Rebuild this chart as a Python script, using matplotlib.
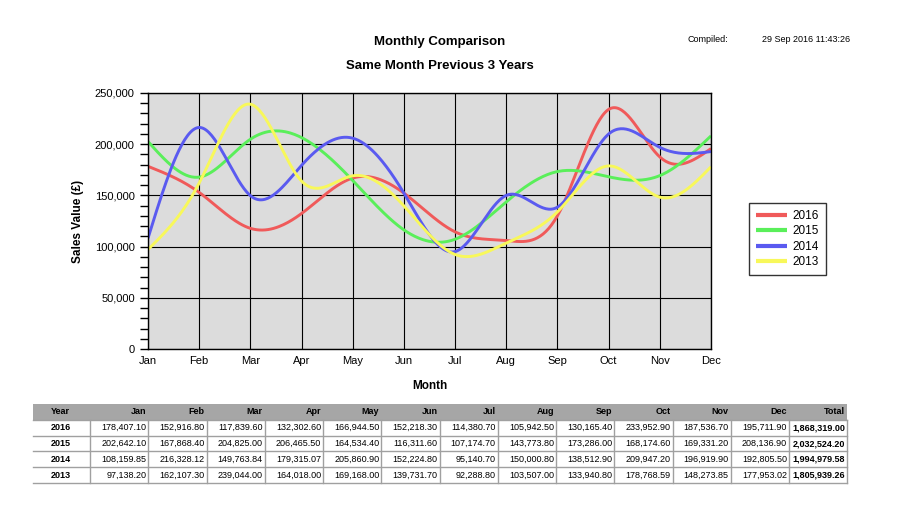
import numpy as np
import matplotlib
matplotlib.use("Agg")
import matplotlib.pyplot as plt
from matplotlib.patches import Rectangle

plt.rcParams['font.family'] = ['Liberation Sans', 'DejaVu Sans']

months = ["Jan", "Feb", "Mar", "Apr", "May", "Jun", "Jul", "Aug", "Sep", "Oct", "Nov", "Dec"]
years = ["2016", "2015", "2014", "2013"]
v2016 = [178407.10, 152916.80, 117839.60, 132302.60, 166944.50, 152218.30,
         114380.70, 105942.50, 130165.40, 233952.90, 187536.70, 195711.90]
v2015 = [202642.10, 167868.40, 204825.00, 206465.50, 164534.40, 116311.60,
         107174.70, 143773.80, 173286.00, 168174.60, 169331.20, 208136.90]
v2014 = [108159.85, 216328.12, 149763.84, 179315.07, 205860.90, 152224.80,
         95140.70, 150000.80, 138512.90, 209947.20, 196919.90, 192805.50]
v2013 = [97138.20, 162107.30, 239044.00, 164018.00, 169168.00, 139731.70,
         92288.80, 103507.00, 133940.80, 178768.59, 148273.85, 177953.02]
series = [v2016, v2015, v2014, v2013]
colors = ["#f05a5a", "#5aef5a", "#5a5af0", "#f8f85a"]


def natural_spline(x, y, n=400):
    x = np.asarray(x, float); y = np.asarray(y, float)
    m = len(x); h = np.diff(x)
    A = np.zeros((m, m)); b = np.zeros(m)
    A[0, 0] = A[-1, -1] = 1
    for i in range(1, m - 1):
        A[i, i - 1] = h[i - 1]; A[i, i] = 2 * (h[i - 1] + h[i]); A[i, i + 1] = h[i]
        b[i] = 3 * ((y[i + 1] - y[i]) / h[i] - (y[i] - y[i - 1]) / h[i - 1])
    c = np.linalg.solve(A, b)
    xs = np.linspace(x[0], x[-1], n)
    idx = np.clip(np.searchsorted(x, xs) - 1, 0, m - 2)
    dx = xs - x[idx]
    bb = (y[1:] - y[:-1]) / h - h * (2 * c[:-1] + c[1:]) / 3
    d = (c[1:] - c[:-1]) / (3 * h)
    ys = y[idx] + bb[idx] * dx + c[idx] * dx ** 2 + d[idx] * dx ** 3
    return xs, ys


W, H = 909, 507
fig = plt.figure(figsize=(W / 100, H / 100), dpi=100)

def fx(px): return px / W
def fy(py): return 1 - py / H

ax = fig.add_axes([fx(148), fy(349), fx(711) - fx(148), fy(93) - fy(349)])
ax.set_facecolor("#dcdcdc")
x = np.arange(12)
for vals, col, yr in zip(series, colors, years):
    xs, ys = natural_spline(x, vals)
    ax.plot(xs, ys, color=col, lw=2.1, label=yr, solid_capstyle='butt')
ax.set_xlim(0, 11)
ax.set_ylim(0, 250000)
ax.set_xticks(x)
ax.set_xticklabels(months, fontsize=8)
ax.set_yticks(np.arange(0, 250001, 50000))
ax.set_yticks(np.arange(0, 250001, 10000), minor=True)
ax.set_yticklabels([f"{int(v):,}" for v in np.arange(0, 250001, 50000)], fontsize=8)
ax.tick_params(axis='y', which='major', length=6, width=1, direction='out')
ax.tick_params(axis='y', which='minor', length=6, width=1, direction='out')
ax.tick_params(axis='x', length=0, pad=5)
ax.grid(True, which='major', color='black', lw=0.8)
ax.set_axisbelow(True)
for s in ax.spines.values():
    s.set_color('black'); s.set_linewidth(1)
ax.set_ylabel("Sales Value (£)", fontsize=8.5, fontweight='bold', labelpad=8)
ax.set_xlabel("Month", fontsize=8.5, fontweight='bold', labelpad=10)

leg = ax.legend(loc='upper left', fontsize=8.5, frameon=True, fancybox=False,
                edgecolor='black', handlelength=2.6, borderpad=0.6, labelspacing=0.28,
                borderaxespad=0, handletextpad=0.5)
leg.set_bbox_to_anchor((fx(749), fy(203)), transform=fig.transFigure)
leg.get_frame().set_linewidth(1)
for lh in leg.get_lines():
    lh.set_linewidth(3)

fig.text(fx(440), fy(42), "Monthly Comparison", ha='center', va='center', fontsize=9.5, fontweight='bold')
fig.text(fx(440), fy(66), "Same Month Previous 3 Years", ha='center', va='center', fontsize=9.5, fontweight='bold')
fig.text(fx(688), fy(39), "Compiled:", ha='left', va='center', fontsize=6.5)
fig.text(fx(762), fy(39), "29 Sep 2016 11:43:26", ha='left', va='center', fontsize=6.5)

# table
totals = [sum(s) for s in series]
tx0, ty0 = 33, 404
colw = [57] + [58.25] * 13
colx = np.concatenate([[tx0], tx0 + np.cumsum(colw)])
rowh = 15.8
header = ["Year"] + months + ["Total"]
fig.patches.append(Rectangle((fx(tx0), fy(ty0 + rowh)), fx(colx[-1]) - fx(tx0), fy(ty0) - fy(ty0 + rowh),
                             transform=fig.transFigure, facecolor="#a6a6a6", edgecolor='none'))
for j, htxt in enumerate(header):
    if j == 0:
        fig.text(fx(colx[0] + 18), fy(ty0 + rowh / 2), htxt, ha='left', va='center', fontsize=6.5, fontweight='bold')
    else:
        fig.text(fx(colx[j + 1] - 2), fy(ty0 + rowh / 2), htxt, ha='right', va='center', fontsize=6.5, fontweight='bold')
for i, (yr, vals) in enumerate(zip(years, series)):
    yc = ty0 + rowh * (i + 1.5)
    fig.text(fx(colx[0] + 18), fy(yc), yr, ha='left', va='center', fontsize=6.5, fontweight='bold')
    for j, v in enumerate(vals):
        fig.text(fx(colx[j + 2] - 2), fy(yc), f"{v:,.2f}", ha='right', va='center', fontsize=6.5)
    fig.text(fx(colx[-1] - 2), fy(yc), f"{totals[i]:,.2f}", ha='right', va='center', fontsize=6.5, fontweight='bold')
gcol = "#a0a0a0"
for i in range(1, 6):
    yy = ty0 + rowh * i
    fig.add_artist(plt.Line2D([fx(tx0), fx(colx[-1])], [fy(yy), fy(yy)], color=gcol, lw=1, transform=fig.transFigure))
for xx in colx[1:]:
    fig.add_artist(plt.Line2D([fx(xx), fx(xx)], [fy(ty0 + rowh), fy(ty0 + rowh * 5)], color=gcol, lw=1, transform=fig.transFigure))

fig.savefig("out.png", dpi=100)
